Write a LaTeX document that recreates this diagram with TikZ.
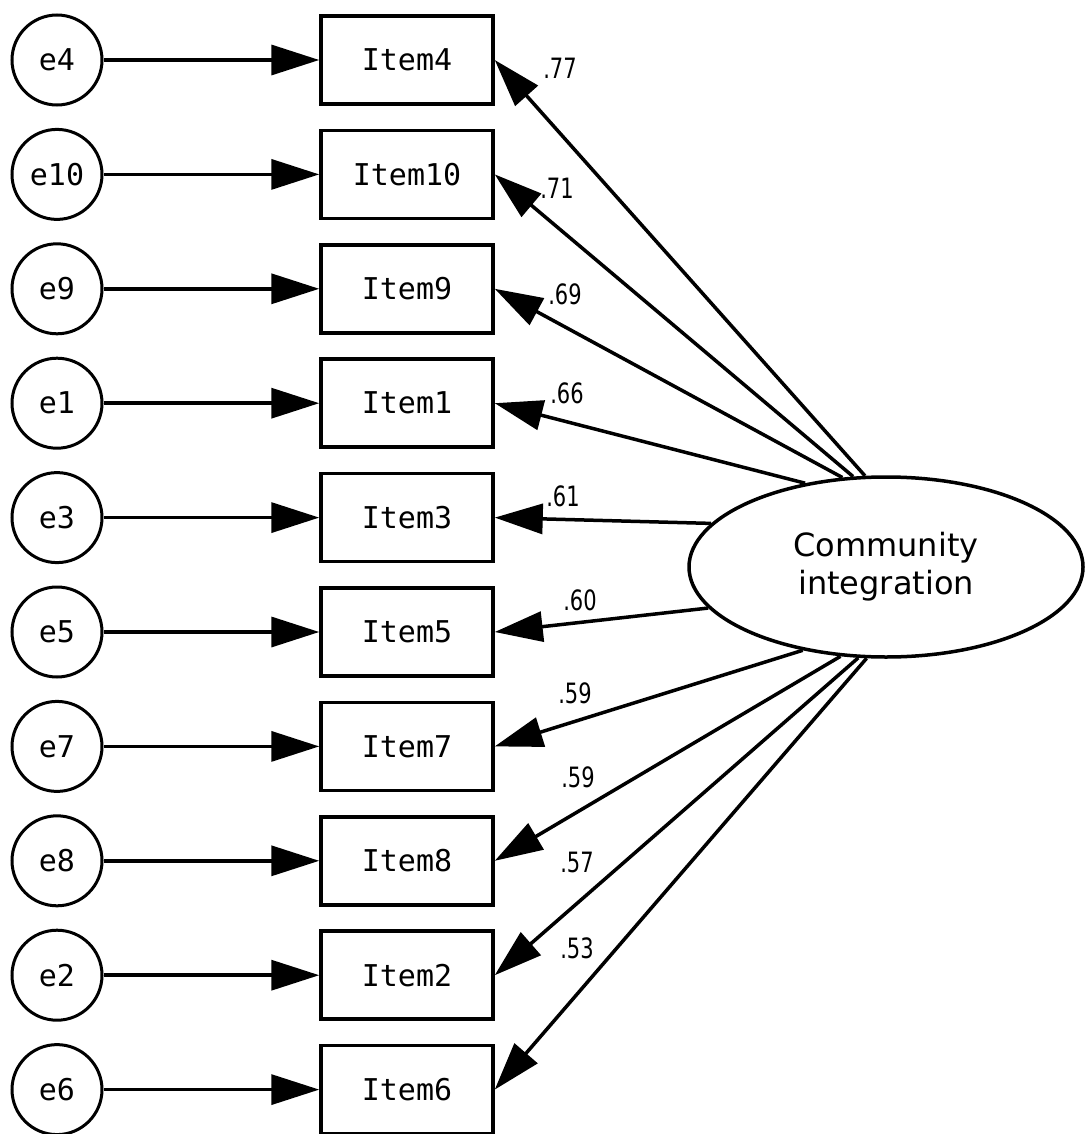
\documentclass[tikz,border=0pt]{standalone}
\usepackage{fontspec}
\setmainfont{DejaVu Sans}
\newfontfamily\monof{DejaVu Sans Mono}
\newfontfamily\coeffont[FakeStretch=0.75]{DejaVu Sans}
\usetikzlibrary{arrows.meta,shapes.geometric}
\tikzset{
  errc/.style={circle,draw,line width=3pt,minimum size=90pt,inner sep=0pt,font=\monof\fontsize{30}{36}\selectfont},
  itembox/.style={rectangle,draw,line width=3.5pt,minimum width=172pt,minimum height=88pt,inner sep=0pt,font=\monof\fontsize{30}{36}\selectfont},
  latent/.style={ellipse,draw,line width=3.5pt,minimum width=394pt,minimum height=180pt,inner sep=0pt,align=center,font=\fontsize{32}{38}\selectfont},
  path/.style={line width=3.5pt,-{Triangle[length=48pt,width=30pt]}},
  coef/.style={inner sep=0pt,font=\coeffont\fontsize{28}{30}\selectfont}
}
\begin{document}
\begin{tikzpicture}[x=1pt,y=-1pt]
\useasboundingbox (0,0) rectangle (1085,1134);
\fill[white] (0,0) rectangle (1085,1134);
\node[latent] (ci) at (886,567) {Community\\integration};
\foreach \n/\yy/\ang/\lab/\lx/\ly in {
  4/60/103/.77/560/68,
  10/174.4/110/.71/557/188,
  9/288.8/116/.69/565/294,
  1/403.2/134/.66/567/393,
  3/517.6/166/.61/563/496,
  5/632/193/.60/580/600,
  7/746.4/225/.59/575/693,
  8/860.8/243/.59/578/777,
  2/975.2/253/.57/577/862,
  6/1089.6/258/.53/577/948}{
  \node[errc] (e\n) at (57,\yy) {e\n};
  \node[itembox] (i\n) at (407,\yy) {Item\n};
  \draw[path] (e\n) -- (i\n);
  \draw[path] (ci.\ang) -- (i\n.east);
  \node[coef] (l\n) at (\lx,\ly) {\lab};
}
\end{tikzpicture}
\end{document}
